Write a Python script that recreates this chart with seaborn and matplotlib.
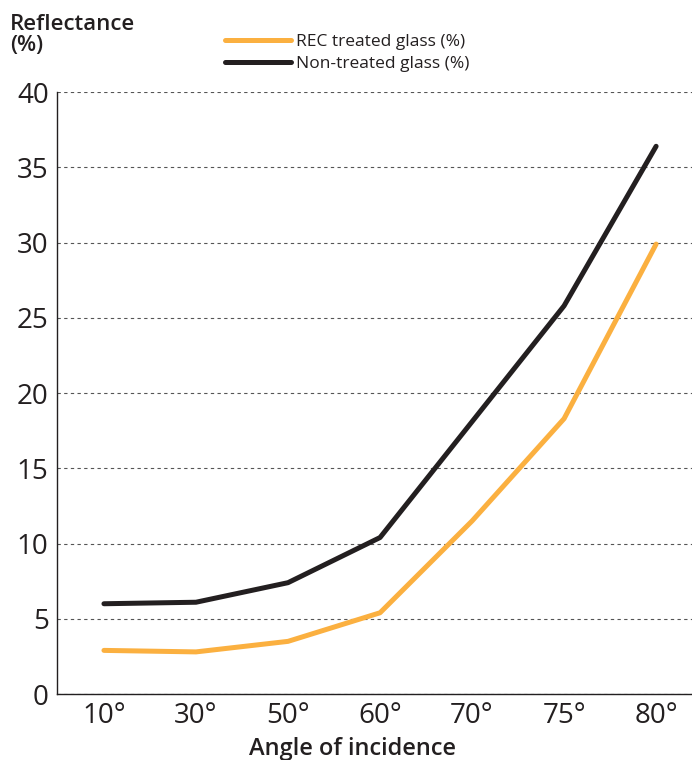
import matplotlib
matplotlib.use("Agg")
import matplotlib.pyplot as plt
import seaborn as sns
import pandas as pd
from matplotlib import font_manager
from matplotlib.lines import Line2D

angles = ["10°", "30°", "50°", "60°", "70°", "75°", "80°"]
rec_treated = [2.9, 2.8, 3.5, 5.4, 11.5, 18.3, 29.9]
non_treated = [6.0, 6.1, 7.4, 10.4, 18.1, 25.8, 36.4]
series_names = ["REC treated glass (%)", "Non-treated glass (%)"]
y_ticks = [0, 5, 10, 15, 20, 25, 30, 35, 40]

df = pd.DataFrame({
    "angle": angles * 2,
    "value": rec_treated + non_treated,
    "series": [series_names[0]] * len(angles) + [series_names[1]] * len(angles),
})

sns.set_theme(style="white")
names = {f.name for f in font_manager.fontManager.ttflist}
fam = "Liberation Sans Narrow" if "Liberation Sans Narrow" in names else "Open Sans"
plt.rcParams["font.family"] = [fam, "DejaVu Sans"]

fig = plt.figure(figsize=(6.92, 7.6), dpi=100)
ax = fig.add_axes([0.0824, 0.0868, 0.9176, 0.792])

sns.lineplot(data=df, x="angle", y="value", hue="series", sort=False,
             palette={series_names[0]: "#fbb040", series_names[1]: "#231f20"},
             linewidth=3.6, ax=ax, legend=False, solid_capstyle="round")

ax.set_ylim(0, 40)
ax.set_xlim(-0.51, 6.39)
ax.set_yticks(y_ticks)
ax.tick_params(axis="both", labelsize=20, colors="#231f20", length=0, pad=6)
ax.yaxis.grid(True, linestyle=(0, (3, 3)), color="#555555", linewidth=0.8)
ax.xaxis.grid(False)
for s in ["top", "right"]:
    ax.spines[s].set_visible(False)
for s in ["left", "bottom"]:
    ax.spines[s].set_color("#231f20")
    ax.spines[s].set_linewidth(1.0)
ax.set_axisbelow(True)

ax.set_xlabel("Angle of incidence", fontsize=17, fontweight="semibold", color="#231f20")
ax.xaxis.set_label_coords(0.4646, -0.072)
ax.set_ylabel("")
fig.text(0.014, 0.982, "Reflectance\n(%)", fontsize=16, fontweight="semibold",
         color="#231f20", va="top", ha="left", linespacing=1.05)

handles = [Line2D([0], [0], color="#fbb040", lw=3.6),
           Line2D([0], [0], color="#231f20", lw=3.6)]
fig.legend(handles, series_names, loc="upper left", bbox_to_anchor=(0.302, 0.976),
           frameon=False, fontsize=12.5, handlelength=3.8, handletextpad=0.3,
           labelspacing=0.32, labelcolor="#231f20")

fig.savefig("out.png", dpi=100)
